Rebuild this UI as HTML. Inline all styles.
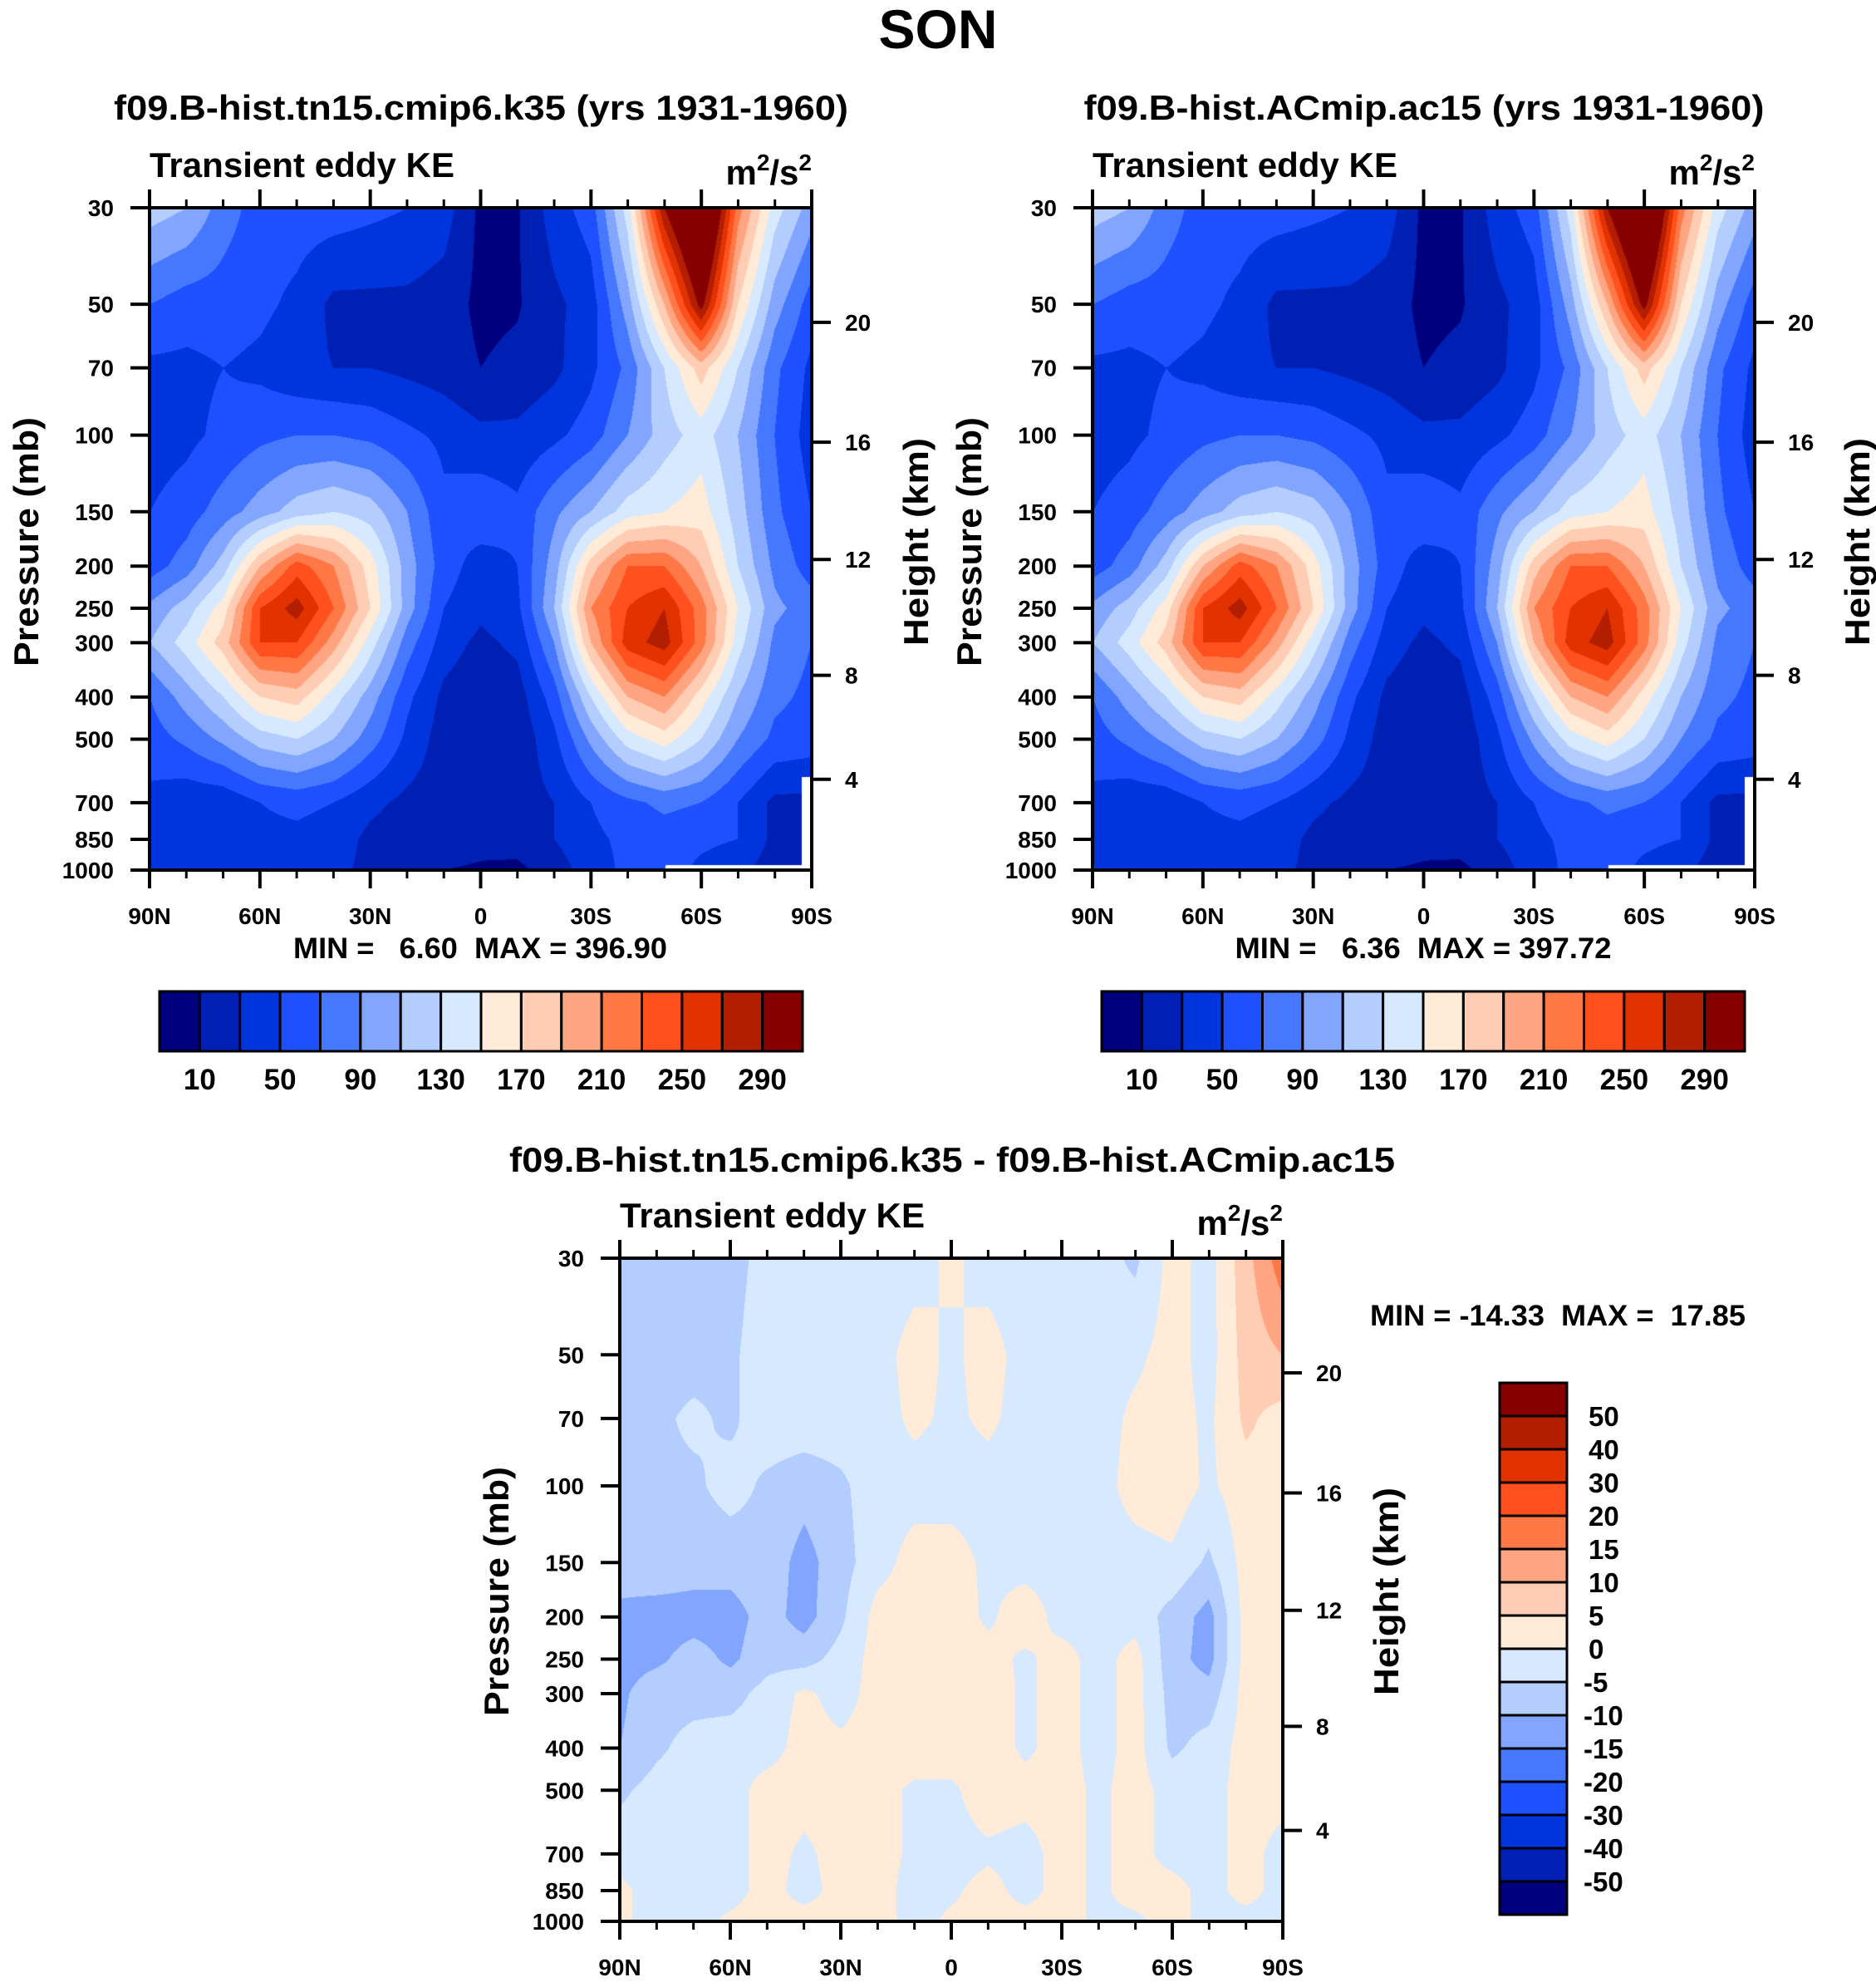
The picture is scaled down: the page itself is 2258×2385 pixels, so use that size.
<!DOCTYPE html>
<html><head><meta charset="utf-8">
<style>
html,body{margin:0;padding:0;background:#fff;}
#root{position:relative;width:2258px;height:2385px;overflow:hidden;}
canvas{position:absolute;}
svg{position:absolute;left:0;top:0;}
text{font-family:"Liberation Sans",sans-serif;font-weight:bold;fill:#000;}
</style></head>
<body>
<div id="root">
<canvas id="c1" width="797" height="797" style="left:180px;top:250px"></canvas>
<canvas id="c2" width="797" height="797" style="left:1315px;top:250px"></canvas>
<canvas id="c3" width="798" height="798" style="left:746px;top:1514px"></canvas>
<svg id="ov" width="2258" height="2385"></svg>
</div>
<script>
// ---- data ----
const lats = [90,80,70,60,50,40,30,20,10,0,-10,-20,-30,-40,-50,-60,-70,-80,-90];
const levels = [30,50,70,100,150,200,250,300,400,500,700,850,1000];
const keA = [
[120,110,80,60,60,60,55,50,40,5,8,40,60,140,290,380,220,140,100],
[70,60,60,55,45,25,25,25,20,5,8,25,40,100,190,300,170,100,60],
[45,45,50,45,35,30,30,25,20,10,15,25,45,75,130,180,130,75,45],
[40,45,55,65,70,70,65,55,45,35,35,45,60,90,120,140,110,70,40],
[50,60,80,100,120,130,120,90,55,65,55,85,110,140,150,160,120,75,50],
[60,80,120,190,240,210,160,100,60,40,50,100,180,230,230,190,130,85,60],
[95,120,160,250,280,230,170,100,50,35,45,110,210,250,270,220,150,95,80],
[110,140,180,250,250,200,140,80,40,25,35,90,190,260,280,220,140,85,70],
[70,100,130,170,180,140,100,55,25,15,20,60,130,190,210,160,110,75,65],
[60,75,95,120,130,110,80,45,20,15,15,45,95,140,160,130,90,65,60],
[45,35,35,50,55,50,35,25,20,20,20,30,50,65,75,70,50,25,25],
[40,35,40,45,45,40,25,20,20,15,20,30,45,55,60,55,50,25,25],
[35,40,40,40,35,35,25,15,10,8,5,20,40,55,60,45,35,20,20]];
const keB = [
[120,110,80,60,60,60,55,50,40,5,8,40,60,140,290,385,220,140,100],
[70,60,60,55,45,25,25,25,20,5,8,25,40,100,190,300,170,100,60],
[45,45,50,45,35,30,30,25,20,10,15,25,45,75,130,180,130,75,45],
[40,45,55,65,70,70,65,55,45,35,35,45,60,90,120,140,110,70,40],
[50,60,80,100,120,130,120,90,55,65,55,85,110,140,150,160,120,75,50],
[60,80,120,190,240,210,160,100,60,40,50,100,180,230,230,190,130,85,60],
[95,120,160,250,280,230,170,100,50,35,45,110,210,250,270,220,150,95,80],
[110,140,180,250,250,200,140,80,40,25,35,90,190,260,280,220,140,85,70],
[70,100,130,170,180,140,100,55,25,15,20,60,130,190,210,160,110,75,65],
[60,75,95,120,130,110,80,45,20,15,15,45,95,140,160,130,90,65,60],
[45,35,35,50,55,50,35,25,20,20,20,30,50,65,75,70,50,25,25],
[40,35,40,45,45,40,25,20,20,15,20,30,45,55,60,55,50,25,25],
[35,40,40,40,35,35,25,15,10,8,5,20,40,55,60,45,35,20,20]];
const keDiff = [
[-8,-7,-7,-7,-3,-3,-3,-3,-2,1,-2,-3,-3,-3,-6,2,-2,8,18],
[-7,-7,-7,-6,-2,-2,-2,-2,2,-1,2,-2,-2,-2,-1,2,-2,7,10],
[-7,-6,-4,-6,-2,-2,-2,-2,1,-1,1,-2,-2,-2,1,2,-1,6,3],
[-7,-6,-6,-3,-6,-8,-6,-2,-2,-2,-2,-2,-2,-2,2,3,-1,3,3],
[-8,-7,-8,-8,-7,-12,-7,-2,2,2,-1,-2,-2,-2,-2,-1,-6,2,2],
[-11,-12,-12,-12,-8,-12,-6,2,3,3,-1,3,-2,-2,-2,-7,-12,2,2],
[-12,-11,-8,-11,-7,-7,-3,2,3,3,2,-1,2,-2,2,-8,-12,2,2],
[-11,-7,-7,-7,-3,1,-2,2,3,3,3,-1,2,-2,2,-7,-8,2,2],
[-10,-6,-3,-2,-2,2,1,2,3,3,3,-1,2,-2,2,-6,-3,2,2],
[-6,-3,-2,-2,2,2,2,2,-1,-1,3,2,2,-1,2,-2,-2,2,2],
[-2,-2,-2,-2,2,-1,2,2,-1,-2,-1,-2,2,-1,2,-2,-2,2,-2],
[1,-2,-2,-2,2,-2,2,2,-2,-1,2,-2,2,-1,2,2,-2,2,-2],
[1,-2,-2,1,2,2,2,2,-2,1,2,2,2,-1,-1,2,-2,-2,-2]];
const keBounds = [10,30,50,70,90,110,130,150,170,190,210,230,250,270,290];
const keTickLabels = ["10","50","90","130","170","210","250","290"];
const diffBounds = [-50,-40,-30,-20,-15,-10,-5,0,5,10,15,20,30,40,50];
const diffTickLabels = ["50","40","30","20","15","10","5","0","-5","-10","-15","-20","-30","-40","-50"];
const palette = ["#00007f","#0020b4","#0034dc","#1e50ff","#4678ff","#82a5ff","#b4cdff","#d7e9ff","#ffebd7","#ffcdb4","#ffa582","#ff7846","#ff501e","#e13200","#b41e00","#870000"];
const pTicks = [30,50,70,100,150,200,250,300,400,500,700,850,1000];
const latTicks = [90,60,30,0,-30,-60,-90];
const latTickLabels = ["90N","60N","30N","0","30S","60S","90S"];
const kmTicks = [4,8,12,16,20];
const kmFrac = [0.863,0.706,0.531,0.354,0.173];

// ---- helpers ----
const LP0=Math.log(30), LP1=Math.log(1000);
function yFrac(p){return (Math.log(p)-LP0)/(LP1-LP0);}
function xFrac(lat){return (90-lat)/180;}
function hex(c){return [parseInt(c.substr(1,2),16),parseInt(c.substr(3,2),16),parseInt(c.substr(5,2),16)];}
const palRGB = palette.map(hex);
const levFr = levels.map(yFrac);
function sample(grid,fx,fy){
  const xi=fx*(lats.length-1); let i=Math.min(lats.length-2,Math.floor(xi)); const tx=xi-i;
  let j=0; while(j<levels.length-2 && fy>levFr[j+1]) j++;
  const ty=Math.max(0,Math.min(1,(fy-levFr[j])/(levFr[j+1]-levFr[j])));
  const a=grid[j][i],b=grid[j][i+1],c=grid[j+1][i],d=grid[j+1][i+1];
  return (a*(1-tx)+b*tx)*(1-ty)+(c*(1-tx)+d*tx)*ty;
}
function drawField(id,grid,bounds,mask){
  const cv=document.getElementById(id), ctx=cv.getContext('2d');
  const W=cv.width,H=cv.height, img=ctx.createImageData(W,H);
  for(let y=0;y<H;y++){const fy=y/(H-1);
    for(let x=0;x<W;x++){const fx=x/(W-1);
      const v=sample(grid,fx,fy); let k=0; while(k<bounds.length && v>=bounds[k]) k++;
      let c=palRGB[k];
      if(mask && ((fx>0.985 && fy>0.86) || (fx>0.78 && fy>0.993))) c=[255,255,255];
      const o=(y*W+x)*4; img.data[o]=c[0];img.data[o+1]=c[1];img.data[o+2]=c[2];img.data[o+3]=255;}}
  ctx.putImageData(img,0,0);
}
drawField('c1',keA,keBounds,true);
drawField('c2',keB,keBounds,true);
drawField('c3',keDiff,diffBounds,false);

const NS="http://www.w3.org/2000/svg", ov=document.getElementById('ov');
function el(tag,attrs,parent){const e=document.createElementNS(NS,tag);for(const k in attrs)e.setAttribute(k,attrs[k]);(parent||ov).appendChild(e);return e;}
function txt(s,x,y,size,anchor,extra){const t=el('text',Object.assign({x:x,y:y,'font-size':size,'text-anchor':anchor||'start'},extra||{}));t.textContent=s;return t;}

function axes(P,tag){
  const g=el('g',{});
  
  
  const R=P.x+P.w,B=P.y+P.h;
  el('rect',{x:P.x,y:P.y,width:P.w,height:P.h,fill:'none',stroke:'#000','stroke-width':4},g);
  for(let lat=90;lat>=-90;lat-=10){
    const x=P.x+xFrac(lat)*P.w, major=(lat%30===0), L=major?22:10;
    el('line',{x1:x,y1:P.y,x2:x,y2:P.y-L,stroke:'#000','stroke-width':major?4:3},g);
    el('line',{x1:x,y1:B,x2:x,y2:B+L,stroke:'#000','stroke-width':major?4:3},g);
  }
  latTicks.forEach((lat,i)=>{
    const t=txt(latTickLabels[i],P.x+xFrac(lat)*P.w,B+65,28,'middle');
    
    
  });
  pTicks.forEach(p=>{
    const y=P.y+yFrac(p)*P.h;
    el('line',{x1:P.x,y1:y,x2:P.x-23,y2:y,stroke:'#000','stroke-width':4},g);
    const t=txt(String(p),P.x-43,y+10,28,'end');
    
    
  });
  kmTicks.forEach((k,i)=>{
    const y=P.y+kmFrac[i]*P.h;
    el('line',{x1:R,y1:y,x2:R+23,y2:y,stroke:'#000','stroke-width':4},g);
    const t=txt(String(k),R+40,y+10,28,'start');
    
    
  });
  let t=txt('Transient eddy KE',P.x,P.y-37,42,'start',{textLength:367,lengthAdjust:'spacingAndGlyphs'});
  
  
  t=el('text',{x:R,y:P.y-28,'font-size':42,'text-anchor':'end'});
  t.innerHTML='m<tspan font-size="28" dy="-17">2</tspan><tspan dy="17">/s</tspan><tspan font-size="28" dy="-17">2</tspan>';
  
  
}
function ylabels(cx1,cy,cx2,tag){
  let t=txt('Pressure (mb)',0,0,42,'middle',{transform:`translate(${cx1},${cy}) rotate(-90)`,textLength:300,lengthAdjust:'spacingAndGlyphs'});
  
  
  t=txt('Height (km)',0,0,42,'middle',{transform:`translate(${cx2},${cy}) rotate(-90)`,textLength:250,lengthAdjust:'spacingAndGlyphs'});
  
  
}
function hbar(x0,y0,w,h,tag){
  const n=palette.length, bw=w/n;
  palette.forEach((c,i)=>{
    const r=el('rect',{x:x0+i*bw,y:y0,width:bw,height:h,fill:c,stroke:'#000','stroke-width':3});
    
    
  });
  keTickLabels.forEach((s,i)=>{
    const t=txt(s,x0+(1+2*i)*bw,y0+118,35,'middle');
    
    
  });
}

// titles
let t=txt('SON',1129,58,66,'middle');


t=txt('f09.B-hist.tn15.cmip6.k35 (yrs 1931-1960)',579,144,42,'middle',{textLength:884,lengthAdjust:'spacingAndGlyphs'});


t=txt('f09.B-hist.ACmip.ac15 (yrs 1931-1960)',1714,144,42,'middle',{textLength:819,lengthAdjust:'spacingAndGlyphs'});


t=txt('f09.B-hist.tn15.cmip6.k35 - f09.B-hist.ACmip.ac15',1146,1410,42,'middle',{textLength:1066,lengthAdjust:'spacingAndGlyphs'});



axes({x:180,y:250,w:797,h:797},'left');
axes({x:1315,y:250,w:797,h:797},'right');
axes({x:746,y:1514,w:798,h:798},'diff');
ylabels(46,652,1117,'left');
ylabels(1181,652,2250,'right');
ylabels(612,1915,1683,'diff');

t=txt('MIN =\u00a0\u00a0\u00a06.60\u00a0\u00a0MAX = 396.90',578,1153,35,'middle',{textLength:450,lengthAdjust:'spacingAndGlyphs'});


t=txt('MIN =\u00a0\u00a0\u00a06.36\u00a0\u00a0MAX = 397.72',1713,1153,35,'middle',{textLength:453,lengthAdjust:'spacingAndGlyphs'});


t=txt('MIN = -14.33\u00a0\u00a0MAX =\u00a0\u00a017.85',1649,1595,35,'start',{textLength:452,lengthAdjust:'spacingAndGlyphs'});



hbar(192,1193,774,72,'left');
hbar(1326,1193,774,72,'right');

// vertical diff colorbar (top = highest)
const vb={x:1805,y:1664,w:81,h:640};
const bh=vb.h/palette.length;
for(let i=0;i<palette.length;i++){
  const r=el('rect',{x:vb.x,y:vb.y+i*bh,width:vb.w,height:bh,fill:palette[palette.length-1-i],stroke:'#000','stroke-width':3});
  
  
}
diffTickLabels.forEach((s,i)=>{
  const t2=txt(s,vb.x+vb.w+20+(s.startsWith('-')?0:6),vb.y+(i+1)*bh+12,33,'start');
  
  
});
</script>
</body></html>
